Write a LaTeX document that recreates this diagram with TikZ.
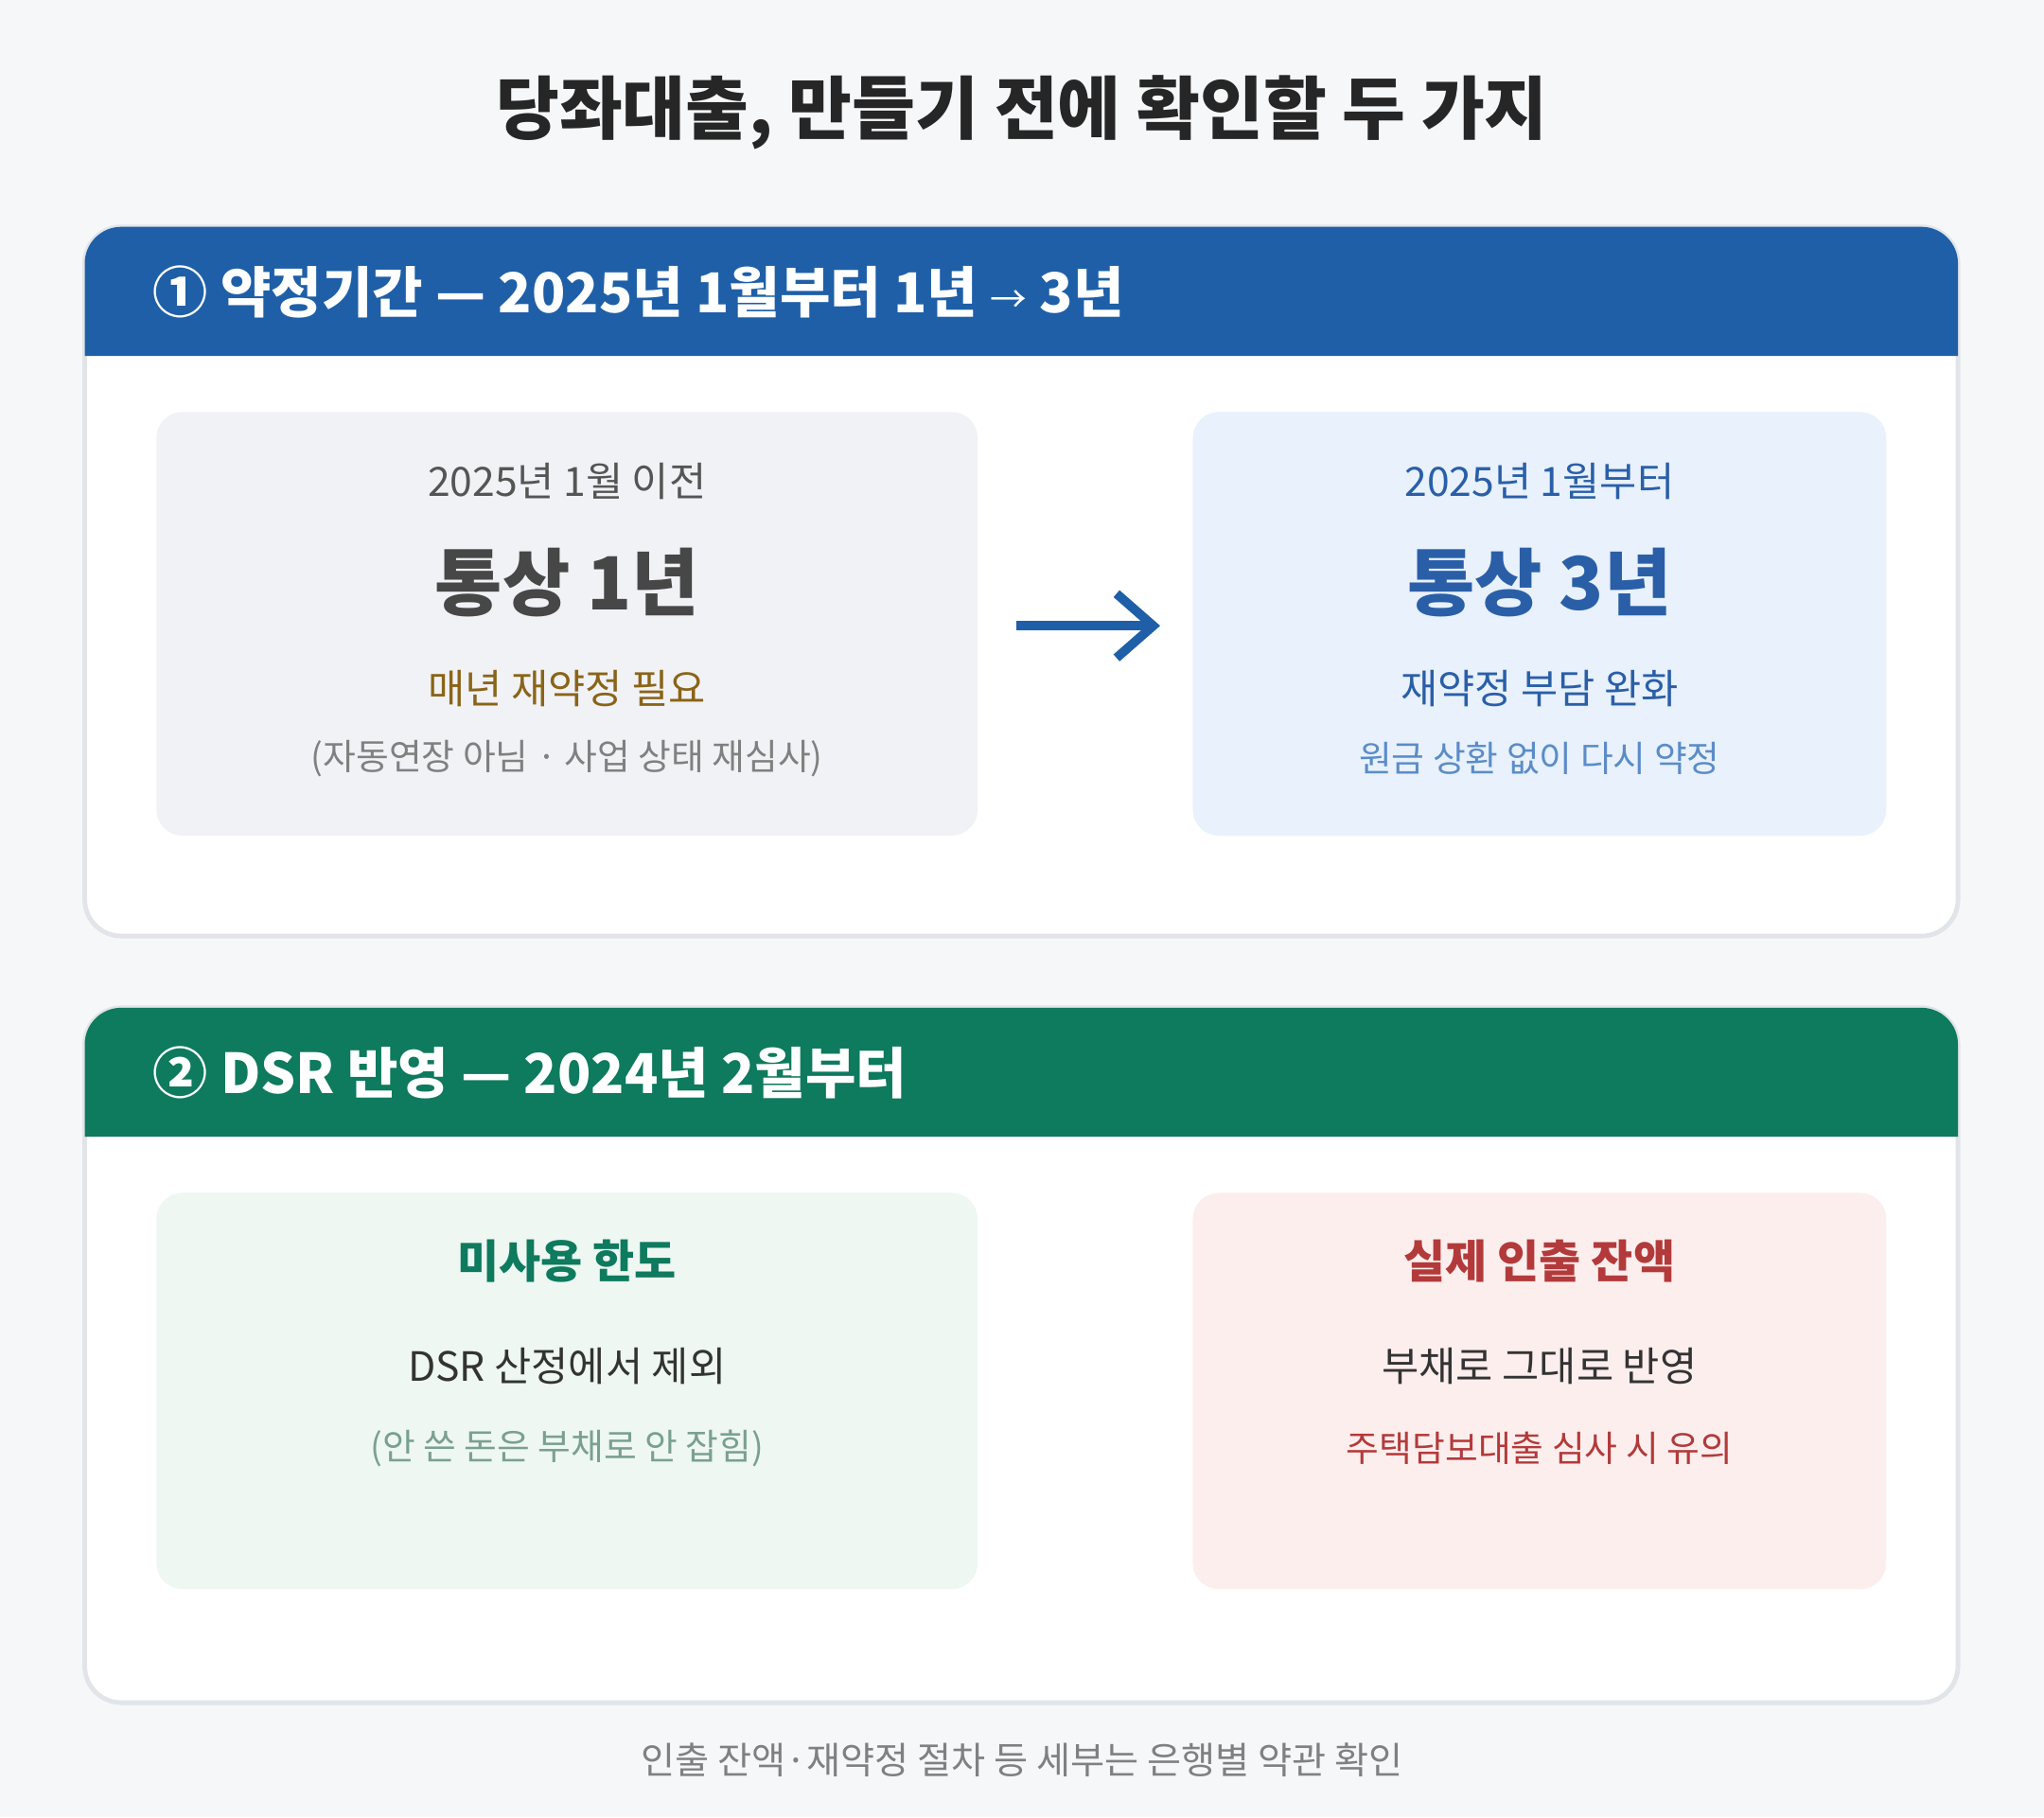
\documentclass[tikz,border=0pt]{standalone}
\usepackage{fontspec}
\setmainfont{Noto Sans CJK KR}
\usetikzlibrary{arrows.meta,positioning}
\definecolor{bg}{HTML}{F6F7F9}
\definecolor{panelline}{HTML}{E1E4E8}
\definecolor{hblue}{HTML}{1E5FA8}
\definecolor{hgreen}{HTML}{0E7A5E}
\definecolor{boxgray}{HTML}{F1F2F6}
\definecolor{boxblue}{HTML}{E8F1FC}
\definecolor{boxgreen}{HTML}{EEF7F2}
\definecolor{boxred}{HTML}{FDEEEE}
\definecolor{tgray}{HTML}{555555}
\definecolor{tbrown}{HTML}{8A6418}
\definecolor{tblue}{HTML}{2A5FA8}
\definecolor{tlblue}{HTML}{5B8CC8}
\definecolor{tlgreen}{HTML}{7AA08F}
\definecolor{tred}{HTML}{B33A3A}
\tikzset{
  panel/.style={draw=panelline,line width=1pt,fill=white,rounded corners=0.28cm},
  box/.style={rounded corners=0.2cm},
  head/.style={font=\fontsize{12}{14}\selectfont\bfseries,text=white,anchor=west},
  big/.style={font=\fontsize{16}{19}\selectfont\bfseries},
  mid/.style={font=\fontsize{8.8}{11}\selectfont},
  midb/.style={font=\fontsize{9.9}{12}\selectfont\bfseries},
  small/.style={font=\fontsize{7.8}{10}\selectfont}
}
\begin{document}
\begin{tikzpicture}[x=0.01cm,y=-0.01cm]
  \fill[bg] (0,0) rectangle (1568,1394);
  \node[font=\fontsize{15}{18}\selectfont\bfseries,text=black!85] (title) at (784,86) {당좌대출, 만들기 전에 확인할 두 가지};
  % panel 1
  \draw[panel] (65,174) rectangle (1502,718);
  \fill[hblue] (65,273) [rounded corners=0.28cm] -- (65,174) -- (1502,174) [sharp corners] -- (1502,273) -- cycle;
  \node[head] (h1) at (105,224) {① 약정기간 — 2025년 1월부터 1년 {\normalfont\footnotesize →} 3년};
  \fill[box,boxgray] (120,316) rectangle (750,641);
  \fill[box,boxblue] (915,316) rectangle (1447,641);
  \node[mid,text=tgray] (l1) at (435,369) {2025년 1월 이전};
  \node[big,text=black!72] (l2) at (435,447) {통상 1년};
  \node[mid,text=tbrown] (l3) at (435,528) {매년 재약정 필요};
  \node[small,text=gray] (l4) at (435,582) {(자동연장 아님 · 사업 상태 재심사)};
  \node[mid,text=tblue] (r1) at (1181,369) {2025년 1월부터};
  \node[big,text=tblue] (r2) at (1181,447) {통상 3년};
  \node[mid,text=tblue] (r3) at (1181,528) {재약정 부담 완화};
  \node[small,text=tlblue] (r4) at (1181,582) {원금 상환 없이 다시 약정};
  \coordinate (a1) at (780,480);
  \coordinate (a2) at (890,480);
  \draw[hblue,line width=2pt,-{Straight Barb[length=8pt,width=14pt]}] (a1) -- (a2);
  % panel 2
  \draw[panel] (65,773) rectangle (1502,1306);
  \fill[hgreen] (65,872) [rounded corners=0.28cm] -- (65,773) -- (1502,773) [sharp corners] -- (1502,872) -- cycle;
  \node[head] (h2) at (105,823) {② DSR 반영 — 2024년 2월부터};
  \fill[box,boxgreen] (120,915) rectangle (750,1219);
  \fill[box,boxred] (915,915) rectangle (1447,1219);
  \node[midb,text=hgreen] (g1) at (435,967) {미사용 한도};
  \node[mid,text=black!80] (g2) at (435,1048) {DSR 산정에서 제외};
  \node[small,text=tlgreen] (g3) at (435,1111) {(안 쓴 돈은 부채로 안 잡힘)};
  \node[midb,text=tred] (d1) at (1181,967) {실제 인출 잔액};
  \node[mid,text=black!80] (d2) at (1181,1048) {부채로 그대로 반영};
  \node[small,text=tred] (d3) at (1181,1111) {주택담보대출 심사 시 유의};
  \node[font=\fontsize{8.1}{10}\selectfont,text=gray] (foot) at (784,1350) {인출 잔액·재약정 절차 등 세부는 은행별 약관 확인};
\end{tikzpicture}
\end{document}
